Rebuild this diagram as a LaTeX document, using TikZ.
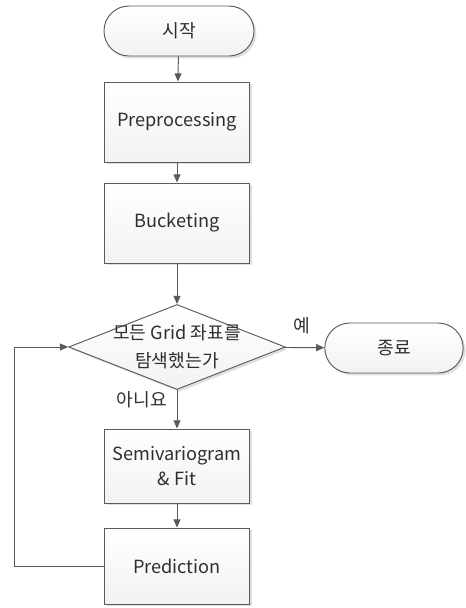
\documentclass[tikz,border=0pt]{standalone}
\usepackage{fontspec}
\setmainfont{Noto Sans CJK KR}
\usepackage{tikz}
\usetikzlibrary{positioning}
\usetikzlibrary{shadows}
\usetikzlibrary{arrows.meta}
\usetikzlibrary{shapes.geometric}
\definecolor{edgegray}{HTML}{5A5A5A}
\definecolor{boxfill}{HTML}{F2F2F2}
\definecolor{txtgray}{HTML}{2E2E2E}
\newcommand{\flowfont}{\fontsize{15.5}{21}\selectfont}
\tikzset{
  stepbox/.style={draw=edgegray,thick,top color=white,bottom color=boxfill,
    minimum width=4.35cm,drop shadow={opacity=0.25,shadow xshift=2pt,shadow yshift=-2pt},
    align=center,text=txtgray,font=\flowfont},
  term/.style={stepbox,rounded corners=0.75cm,minimum height=1.5cm},
  decision/.style={diamond,draw=edgegray,thick,top color=white,bottom color=boxfill,
    minimum width=6.5cm,minimum height=2.55cm,inner sep=0pt,
    drop shadow={opacity=0.25,shadow xshift=2pt,shadow yshift=-2pt}},
  flow/.style={draw=edgegray,thick,-{Triangle[length=7pt,width=6pt]}}
}
\begin{document}
\begin{tikzpicture}[x=0.03cm,y=-0.03cm]
			\useasboundingbox (0,0) rectangle (465,608);
			
			\node[term,minimum width=4.5cm] (start) at (179,31) {시작};
			\node[stepbox,minimum height=2.4cm] (prep) at (177,122) {Preprocessing};
			\node[stepbox,minimum height=2.4cm] (bucket) at (177,223) {Bucketing};
			
			\node[decision] (check) at (177,347) {};
			\node[align=center,text=txtgray,font=\fontsize{15.5}{24}\selectfont] (checktxt) at (177,347) {모든 Grid 좌표를\\탐색했는가};
			
			\node[term,minimum width=4.15cm] (stop) at (394,348) {종료};
			
			\node[stepbox,minimum height=2.22cm] (semi) at (177,466) {Semivariogram\\\& Fit};
			\node[stepbox,minimum height=2.28cm] (pred) at (177,566) {Prediction};
			
			\coordinate (loopbot) at (14,566);
			\coordinate (looptop) at (14,347);
			
			\draw[flow] (start) -- (prep);
			\draw[flow] (prep) -- (bucket);
			\draw[flow] (bucket) -- (check);
			\draw[flow] (check) -- (stop);
			\draw[flow] (check) -- (semi);
			\draw[flow] (semi) -- (pred);
			\draw[flow] (pred.west) -- (loopbot) -- (looptop) -- (check.west);
			
			\node[text=txtgray,font=\flowfont] (yes) at (302,326) {예};
			\node[text=txtgray,font=\flowfont] (no) at (142,400) {아니요};
			
		\end{tikzpicture}
\end{document}
